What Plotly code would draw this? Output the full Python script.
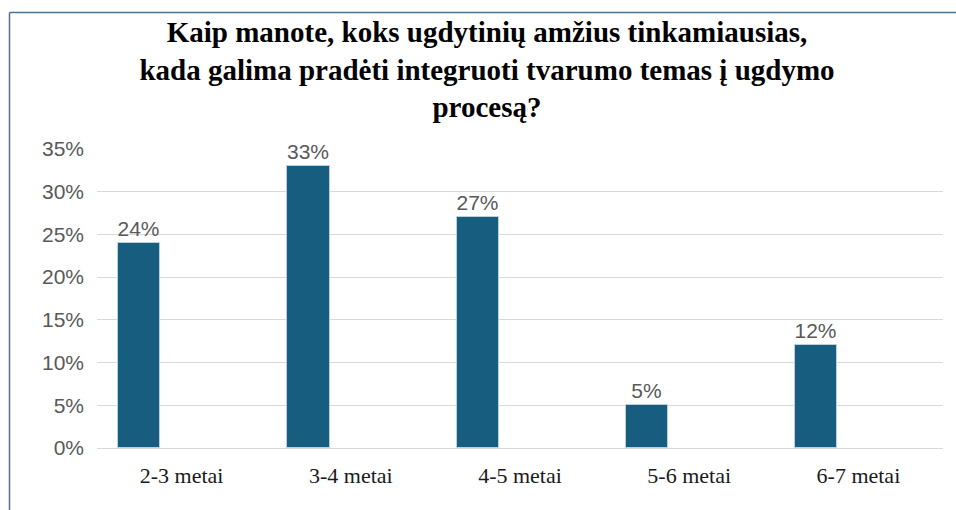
import plotly.graph_objects as go

categories = ["2-3 metai", "3-4 metai", "4-5 metai", "5-6 metai", "6-7 metai"]
values = [0.24, 0.33, 0.27, 0.05, 0.12]
labels = ["24%", "33%", "27%", "5%", "12%"]
y_ticks = [0, 0.05, 0.10, 0.15, 0.20, 0.25, 0.30, 0.35]
y_tick_text = ["0%", "5%", "10%", "15%", "20%", "25%", "30%", "35%"]
title_text = ("<b>Kaip manote, koks ugdytinių amžius tinkamiausias,<br>"
              "kada galima pradėti integruoti tvarumo temas į ugdymo<br>"
              "procesą?</b>")

W, H = 956, 510
L, R, T, B = 97, 13, 149, 62
pw, ph = W - L - R, H - T - B
serif = "Times New Roman, Liberation Serif, DejaVu Serif, serif"

fig = go.Figure()
fig.add_trace(go.Bar(
    x=categories, y=values, text=labels, textposition="outside",
    textfont=dict(family="Liberation Sans", size=21, color="#595959"),
    marker=dict(color="#175d7f", line=dict(color="#b9d0de", width=1)),
    width=0.25, offset=-0.375, cliponaxis=False,
))

def px_x(p):
    return (p - L) / pw

def px_y(p):
    return (H - B - p) / ph

frame = "#56718a"
fig.add_shape(type="line", xref="paper", yref="paper",
              x0=px_x(9.5), x1=px_x(960), y0=px_y(12.5), y1=px_y(12.5),
              line=dict(color=frame, width=1.5))
fig.add_shape(type="line", xref="paper", yref="paper",
              x0=px_x(9.5), x1=px_x(9.5), y0=px_y(12.5), y1=px_y(515),
              line=dict(color=frame, width=1.5))

fig.update_layout(
    width=W, height=H,
    margin=dict(l=L, r=R, t=T, b=B),
    paper_bgcolor="white", plot_bgcolor="white",
    showlegend=False,
    title=dict(text=title_text, x=487 / W, xanchor="center", xref="container",
               y=1 - 42 / H, yanchor="top", yref="container",
               font=dict(family=serif, size=29, color="black", weight="bold")),
    xaxis=dict(range=[-0.5, 4.5], showgrid=False, showline=False, zeroline=False,
               ticks="", ticklabelstandoff=12,
               tickfont=dict(family=serif, size=22, color="#1a1a1a")),
    yaxis=dict(range=[0, 0.35], tickvals=y_ticks, ticktext=y_tick_text,
               showgrid=True, gridcolor="#d9d9d9", gridwidth=1,
               zeroline=True, zerolinecolor="#d9d9d9", zerolinewidth=1,
               showline=False, ticks="", ticklabelstandoff=12,
               tickfont=dict(family="Liberation Sans", size=21, color="#595959")),
    bargap=0,
)

fig.write_html("out.html", config={"displayModeBar": False},
               post_script="document.body.style.margin='0';")
